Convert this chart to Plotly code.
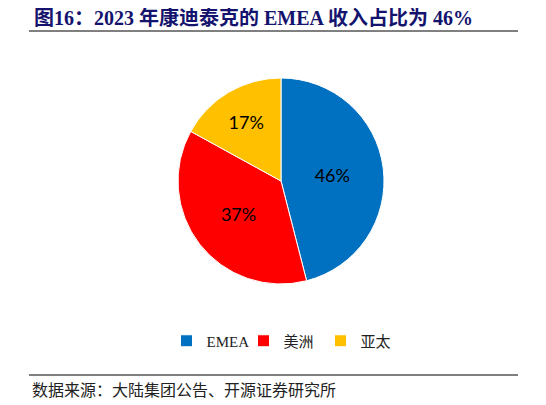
import plotly.graph_objects as go

# data
regions = ['EMEA', '美洲', '亚太']
shares = [46, 37, 17]
colors = ['#0070C0', '#FF0000', '#FFC000']

title_text = '图16：2023 年康迪泰克的 EMEA 收入占比为 46%'
source_text = '数据来源：大陆集团公告、开源证券研究所'

# page body has an 8px margin, so the figure sits at (8, 8) in the window
OFF = 8
W, H = 546 - OFF, 405 - OFF


def px(x):
    return (x - OFF) / W


def py(y):
    return (H - (y - OFF)) / H


fig = go.Figure()
fig.add_trace(go.Pie(labels=regions, values=shares, sort=False, direction='clockwise', rotation=0,
                     marker=dict(colors=colors, line=dict(color='white', width=1)),
                     texttemplate='%{value}%', textposition='inside', insidetextorientation='horizontal',
                     textfont=dict(family='Lato, Open Sans, sans-serif', size=18, color='black'),
                     hoverinfo='label+percent',
                     domain=dict(x=[px(178), px(384)], y=[py(284), py(78)])))

# title + source lines
fig.add_shape(type='line', xref='paper', yref='paper', x0=px(29), x1=px(518), y0=py(31), y1=py(31),
              line=dict(color='black', width=1))
fig.add_shape(type='line', xref='paper', yref='paper', x0=px(29), x1=px(518), y0=py(375), y1=py(375),
              line=dict(color='black', width=1))

fig.add_annotation(text='<b>' + title_text + '</b>', xref='paper', yref='paper', x=px(32), y=py(17),
                   xanchor='left', yanchor='middle', showarrow=False,
                   font=dict(family='Liberation Serif, Noto Sans CJK SC', size=20, color='#14146E'))
fig.add_annotation(text=source_text, xref='paper', yref='paper', x=px(30), y=py(390),
                   xanchor='left', yanchor='middle', showarrow=False,
                   font=dict(family='Liberation Serif, Noto Sans CJK SC', size=16, color='#222222'))

fig.update_layout(width=W, height=H, margin=dict(l=0, r=0, t=0, b=0),
                  paper_bgcolor='white', plot_bgcolor='white',
                  showlegend=True,
                  legend=dict(orientation='h', x=px(282), xanchor='center', y=py(341), yanchor='middle',
                              font=dict(family='Liberation Serif, Noto Sans CJK SC', size=15, color='#222222'),
                              itemwidth=30, entrywidth=32, tracegroupgap=0))

fig.write_html("out.html")
